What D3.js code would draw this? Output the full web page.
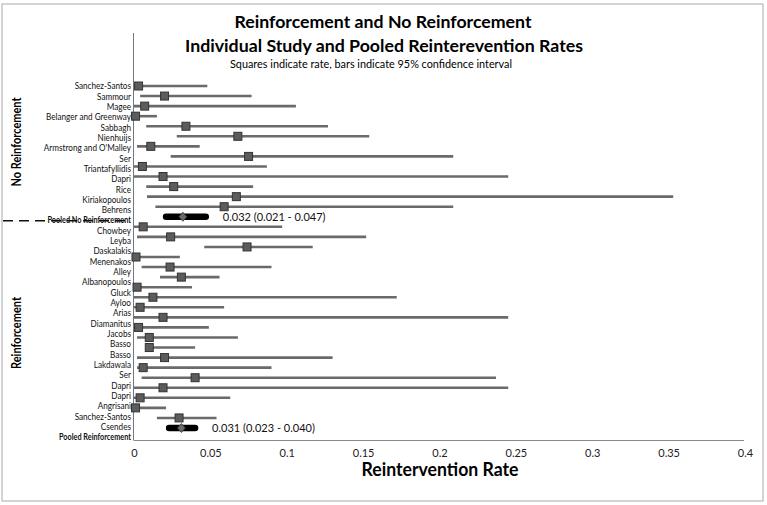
<!DOCTYPE html>
<html><head><meta charset="utf-8">
<script src="https://cdn.jsdelivr.net/npm/d3@7/dist/d3.min.js"></script>
<style>body{margin:0;background:#fff}svg{display:block}</style>
</head><body><svg id="c" width="767" height="505"></svg>
<script>
const studies = ["Sanchez-Santos","Sammour","Magee","Belanger and Greenway","Sabbagh","Nienhuijs","Armstrong and O'Malley","Ser","Triantafyllidis","Dapri","Rice","Kiriakopoulos","Behrens","Pooled No Reinforcement",
"Chowbey","Leyba","Daskalakis","Menenakos","Alley","Albanopoulos","Gluck","Ayloo","Arias","Diamanitus","Jacobs","Basso","Basso","Lakdawala","Ser","Dapri","Dapri","Angrisani","Sanchez-Santos","Csendes","Pooled Reinforcement"];
const rates = [0.003,0.020,0.007,0.001,0.034,0.068,0.011,0.075,0.0055,0.019,0.026,0.067,0.059,0.032,
0.006,0.024,0.074,0.0013,0.0236,0.031,0.002,0.0124,0.004,0.019,0.003,0.010,0.010,0.020,0.006,0.040,0.019,0.004,0.001,0.0295,0.031];
const lower = [0,0.004,0,0,0.008,0.028,0.002,0.024,0,0,0.008,0.0085,0.014,0.021,
0,0.002,0.046,0,0.005,0.017,0,0,0,0,0,0.002,0.008,0.002,0.002,0.005,0,0,0,0.015,0.023];
const upper = [0.048,0.077,0.106,0.015,0.127,0.154,0.043,0.209,0.087,0.245,0.078,0.353,0.209,0.047,
0.097,0.152,0.117,0.030,0.090,0.056,0.038,0.172,0.059,0.245,0.049,0.068,0.040,0.130,0.090,0.237,0.245,0.063,0.021,0.054,0.040];
const pooledIdx = [13,34];
const xTicks = [0,0.05,0.1,0.15,0.2,0.25,0.3,0.35,0.4];
const groups = ["No Reinforcement","Reinforcement"];

const svg = d3.select("#c");
const F = "Lato, 'Open Sans', sans-serif";
const x = d3.scaleLinear().domain([0,0.4]).range([134,745]);
const idx = d3.range(studies.length);
const yLab = d3.scaleLinear().domain([0,34]).range([86,437]);
const yMark = d3.scaleLinear().domain([0,34]).range([86,428]);

// frame
svg.append("rect").attr("x",2).attr("y",4).attr("width",761).attr("height",497)
  .attr("fill","none").attr("stroke","#aaa").attr("stroke-width",1);

// titles
svg.append("text").attr("x",383).attr("y",28).attr("text-anchor","middle")
  .attr("font-family",F).attr("font-weight","bold").attr("font-size",17)
  .attr("textLength",297).attr("lengthAdjust","spacingAndGlyphs")
  .text("Reinforcement and No Reinforcement");
svg.append("text").attr("x",384).attr("y",52).attr("text-anchor","middle")
  .attr("font-family",F).attr("font-weight","bold").attr("font-size",17)
  .attr("textLength",398).attr("lengthAdjust","spacingAndGlyphs")
  .text("Individual Study and Pooled Reinterevention Rates");
svg.append("text").attr("x",371).attr("y",68).attr("text-anchor","middle")
  .attr("font-family",F).attr("font-size",11)
  .attr("textLength",282).attr("lengthAdjust","spacingAndGlyphs")
  .text("Squares indicate rate, bars indicate 95% confidence interval");

// axes
const xAxis = d3.axisBottom(x).tickValues(xTicks).tickSize(0).tickPadding(9)
  .tickFormat(d => d === 0 ? "0" : String(d));
const gx = svg.append("g").attr("transform","translate(0,440)").call(xAxis);
gx.select(".domain").attr("stroke","#888").attr("stroke-width",1).attr("d","M133.5,0.5H744");
gx.selectAll("text").attr("font-family",F).attr("font-size",11).attr("fill","#222");

svg.append("line").attr("x1",133.5).attr("x2",133.5).attr("y1",33).attr("y2",440)
  .attr("stroke","#777").attr("stroke-width",1);

svg.append("text").attr("x",440).attr("y",476).attr("text-anchor","middle")
  .attr("font-family",F).attr("font-weight","bold").attr("font-size",18)
  .attr("textLength",157).attr("lengthAdjust","spacingAndGlyphs")
  .text("Reintervention Rate");

// group labels
const gy = [142, 333];
const gl = [89, 72];
groups.forEach((g,i)=>{
  svg.append("text").attr("transform",`translate(21,${gy[i]}) rotate(-90)`)
    .attr("text-anchor","middle").attr("font-family",F).attr("font-weight","bold")
    .attr("font-size",13).attr("textLength",gl[i]).attr("lengthAdjust","spacingAndGlyphs").text(g);
});

// dashed separator
svg.append("line").attr("x1",3).attr("x2",130).attr("y1",yLab(13)+0.5).attr("y2",yLab(13)+0.5)
  .attr("stroke","#111").attr("stroke-width",1.6).attr("stroke-dasharray","10,6");

// category labels (narrow, like the original condensed face)
svg.append("g").attr("transform","translate(131,0) scale(0.86,1)")
  .selectAll("text").data(idx).join("text")
  .attr("x",0).attr("y",i=>yLab(i)).attr("dy","0.35em").attr("text-anchor","end")
  .attr("font-family",F).attr("font-size",i=>pooledIdx.includes(i)?8.5:9.5)
  .attr("font-weight",i=>pooledIdx.includes(i)?"bold":"normal")
  .attr("fill","#111").text(i=>studies[i]);

const studyIdx = idx.filter(i=>!pooledIdx.includes(i));
// CI lines
svg.append("g").selectAll("line").data(studyIdx).join("line")
  .attr("x1",i=>x(lower[i])).attr("x2",i=>x(upper[i]))
  .attr("y1",i=>yMark(i)).attr("y2",i=>yMark(i))
  .attr("stroke","#6a6a6a").attr("stroke-width",2.6);
// squares
svg.append("g").selectAll("rect").data(studyIdx).join("rect")
  .attr("x",i=>x(rates[i])-4).attr("y",i=>yMark(i)-4).attr("width",8).attr("height",8)
  .attr("fill","#5c5c5c").attr("stroke","#333").attr("stroke-width",1);

// pooled bars
svg.append("g").selectAll("line").data(pooledIdx).join("line")
  .attr("x1",i=>x(lower[i])).attr("x2",i=>x(upper[i]))
  .attr("y1",i=>yMark(i)).attr("y2",i=>yMark(i))
  .attr("stroke","#000").attr("stroke-width",6.5).attr("stroke-linecap","round");
svg.append("g").selectAll("path").data(pooledIdx).join("path")
  .attr("d",i=>{const cx=x(rates[i]),cy=yMark(i);return `M${cx},${cy-4.5}L${cx+4},${cy}L${cx},${cy+4.5}L${cx-4},${cy}Z`;})
  .attr("fill","#6a6a6a").attr("stroke","#333").attr("stroke-width",0.8);
svg.append("g").selectAll("text").data(pooledIdx).join("text")
  .attr("x",i=>x(upper[i])+17).attr("y",i=>yMark(i)).attr("dy","0.35em")
  .attr("font-family",F).attr("font-size",11).attr("fill","#111")
  .text(i=>`${rates[i].toFixed(3)} (${lower[i].toFixed(3)} - ${upper[i].toFixed(3)})`);
</script></body></html>
